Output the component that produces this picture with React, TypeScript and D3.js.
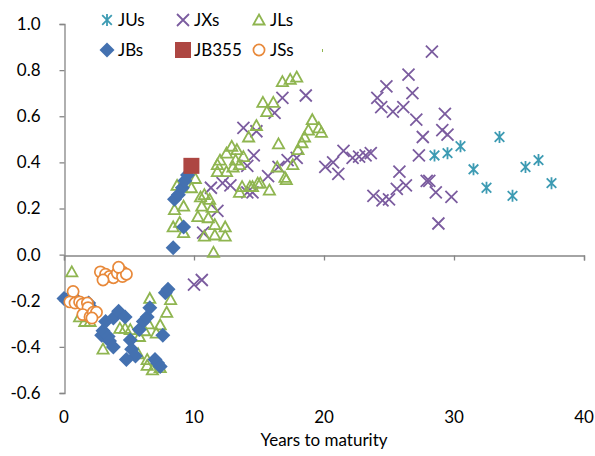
import React, { useEffect, useRef } from "react";
import * as d3 from "d3";

// values: [years to maturity, value]
const JUs = [
  [28.5, 0.43], [29.5, 0.44], [30.5, 0.47], [31.5, 0.37], [32.5, 0.29],
  [33.5, 0.51], [34.5, 0.255], [35.5, 0.38], [36.5, 0.41], [37.5, 0.31],
];

const JXs = [
  [28.3, 0.88], [26.5, 0.78], [24.8, 0.73], [26.8, 0.7], [24.1, 0.68], [24.4, 0.64],
  [25.3, 0.62], [26.1, 0.64], [27.1, 0.585], [29.3, 0.61], [29.1, 0.54], [29.5, 0.52],
  [27.6, 0.51], [27.3, 0.43], [25.8, 0.36], [26.3, 0.3], [25.6, 0.285], [27.9, 0.32],
  [28.1, 0.32], [28.6, 0.27], [29.8, 0.25], [23.8, 0.255], [24.5, 0.235], [25.0, 0.24],
  [28.8, 0.135], [21.5, 0.45], [22.2, 0.42], [22.7, 0.425], [23.2, 0.43], [23.6, 0.44],
  [20.7, 0.4], [21.1, 0.35], [20.1, 0.38], [18.6, 0.69], [16.8, 0.68], [16.2, 0.615],
  [13.8, 0.55], [14.8, 0.535], [14.6, 0.43], [14.1, 0.385], [17.2, 0.41], [17.9, 0.42],
  [16.5, 0.38], [15.7, 0.34], [12.8, 0.3], [12.2, 0.31], [11.3, 0.29], [14.5, 0.27],
  [14.1, 0.27], [11.8, 0.19], [10.7, 0.095], [10.6, -0.11], [10.0, -0.13],
];

const JLs = [
  [16.8, 0.75], [17.4, 0.76], [17.9, 0.77], [15.3, 0.66], [16.1, 0.66], [15.6, 0.62],
  [14.8, 0.56], [14.2, 0.51], [19.1, 0.585], [19.6, 0.55], [19.8, 0.53], [18.8, 0.54],
  [18.5, 0.51], [18.3, 0.485], [18.0, 0.455], [16.5, 0.48], [17.6, 0.39], [16.4, 0.38],
  [17.1, 0.325], [15.8, 0.28], [15.1, 0.31], [14.5, 0.295], [13.7, 0.295], [13.5, 0.27],
  [12.9, 0.47], [13.3, 0.455], [12.5, 0.44], [13.8, 0.425], [12.0, 0.41], [13.2, 0.41],
  [11.8, 0.39], [12.5, 0.36], [13.0, 0.38], [11.8, 0.36], [13.5, 0.39], [14.3, 0.295],
  [14.9, 0.31], [17.0, 0.335],
  [8.5, 0.195], [9.2, 0.21], [9.8, 0.29], [10.1, 0.33], [10.5, 0.25], [10.8, 0.26],
  [11.2, 0.24], [10.6, 0.21], [10.3, 0.165], [11.4, 0.205], [11.1, 0.16], [11.6, 0.13],
  [12.4, 0.12], [10.8, 0.08], [11.6, 0.085], [12.4, 0.08], [8.9, 0.14], [9.2, 0.095],
  [11.5, 0.01], [8.4, 0.12], [8.7, 0.3],
  [0.6, -0.075], [6.6, -0.19], [7.9, -0.25], [8.2, -0.195], [6.5, -0.3], [7.1, -0.34],
  [5.8, -0.355], [6.2, -0.33], [4.7, -0.32], [4.3, -0.32], [5.1, -0.325], [3.0, -0.41],
  [5.7, -0.43], [6.4, -0.455], [6.4, -0.48], [6.8, -0.5], [7.4, -0.49], [1.2, -0.27],
  [1.6, -0.29], [2.0, -0.29], [7.4, -0.305],
];

const JBs = [
  [0.0, -0.19], [0.5, -0.18], [0.85, -0.19], [1.9, -0.21], [2.0, -0.225], [2.9, -0.35],
  [3.0, -0.33], [3.4, -0.355], [3.5, -0.375], [3.8, -0.4], [3.2, -0.29], [3.8, -0.275],
  [4.2, -0.245], [4.7, -0.27], [5.1, -0.37], [5.2, -0.41], [5.5, -0.44], [4.8, -0.455],
  [5.8, -0.325], [6.1, -0.29], [6.4, -0.27], [6.6, -0.23], [7.0, -0.455], [7.2, -0.47],
  [7.4, -0.485], [7.6, -0.35], [7.8, -0.165], [8.0, -0.15], [8.4, 0.03], [9.2, 0.12],
  [8.5, 0.24], [8.8, 0.26], [9.1, 0.29], [9.3, 0.32], [9.5, 0.345],
];

const JB355 = [[9.8, 0.385]];

const JSs = [
  [2.8, -0.075], [3.2, -0.085], [3.5, -0.095], [3.8, -0.1], [4.1, -0.08], [4.5, -0.075],
  [4.5, -0.095], [4.8, -0.085], [4.2, -0.055], [3.0, -0.11],
  [0.7, -0.16], [0.45, -0.205], [0.85, -0.21], [1.2, -0.205], [1.4, -0.215], [1.8, -0.21],
  [1.85, -0.23], [1.45, -0.26], [2.0, -0.27], [2.25, -0.25], [2.5, -0.25], [2.15, -0.275],
];

const xTicks = [0, 10, 20, 30, 40];
const yTicks = [-0.6, -0.4, -0.2, 0, 0.2, 0.4, 0.6, 0.8, 1.0];

const FONT = "Lato, 'Open Sans', sans-serif";
const AXIS = "#868686";

// marker drawers, each draws at (0,0) inside a translated group
const markers = {
  star: (g, c) => {
    const r = 6;
    g.append("path")
      .attr("d", `M0,${-r}V${r}M${-r * 0.8},${-r * 0.8}L${r * 0.8},${r * 0.8}M${-r * 0.8},${r * 0.8}L${r * 0.8},${-r * 0.8}`)
      .attr("stroke", c).attr("stroke-width", 1.8).attr("fill", "none");
  },
  cross: (g, c) => {
    const r = 6;
    g.append("path")
      .attr("d", `M${-r},${-r}L${r},${r}M${-r},${r}L${r},${-r}`)
      .attr("stroke", c).attr("stroke-width", 1.8).attr("fill", "none");
  },
  triangle: (g, c) => {
    g.append("path")
      .attr("d", "M0,-5.5L5.6,4.5L-5.6,4.5Z")
      .attr("stroke", c).attr("stroke-width", 1.8).attr("fill", "none");
  },
  diamond: (g, c) => {
    const r = 7.5;
    g.append("path").attr("d", `M0,${-r}L${r},0L0,${r}L${-r},0Z`).attr("fill", c);
  },
  square: (g, c) => {
    g.append("rect").attr("x", -8).attr("y", -8).attr("width", 16).attr("height", 16).attr("fill", c);
  },
  circle: (g, c) => {
    g.append("circle").attr("r", 5.6).attr("fill", "#fff").attr("stroke", c).attr("stroke-width", 1.7);
  },
};

const series = [
  { name: "JUs", data: JUs, shape: "star", color: "#3d9bb3" },
  { name: "JXs", data: JXs, shape: "cross", color: "#7b5c9f" },
  { name: "JLs", data: JLs, shape: "triangle", color: "#8fb550" },
  { name: "JBs", data: JBs, shape: "diamond", color: "#4471b0" },
  { name: "JB355", data: JB355, shape: "square", color: "#ad4642" },
  { name: "JSs", data: JSs, shape: "circle", color: "#e8893a" },
];

export default function App() {
  const svgRef = useRef(null);

  useEffect(() => {
    const svg = d3.select(svgRef.current);
    svg.selectAll("*").remove();

    const x = d3.scaleLinear().domain([0, 40]).range([64, 584]);
    const y = d3.scaleLinear().domain([-0.6, 1]).range([393, 24]);

    // y axis
    const yAxis = svg.append("g")
      .attr("transform", "translate(64.5,0)")
      .call(d3.axisLeft(y).tickValues(yTicks).tickSize(5).tickPadding(19)
        .tickFormat((d) => (Math.abs(d) < 1e-9 ? "0.0" : d.toFixed(1))));
    yAxis.select(".domain").attr("stroke", AXIS).attr("stroke-width", 1.3);
    yAxis.selectAll(".tick line").attr("stroke", AXIS).attr("stroke-width", 1.3);
    yAxis.selectAll(".tick text").attr("font-family", FONT).attr("font-size", 17).attr("fill", "#000");

    // x axis crosses at zero, labels sit below the plot
    const xAxis = svg.append("g")
      .attr("transform", `translate(0,${Math.round(y(0)) + 0.5})`)
      .call(d3.axisBottom(x).tickValues(xTicks).tickSize(5).tickFormat(() => ""));
    xAxis.select(".domain").attr("stroke", AXIS).attr("stroke-width", 1.3);
    xAxis.selectAll(".tick line").attr("stroke", AXIS).attr("stroke-width", 1.3);

    svg.append("g").selectAll("text").data(xTicks).enter().append("text")
      .attr("x", (d) => x(d)).attr("y", 423)
      .attr("text-anchor", "middle")
      .attr("font-family", FONT).attr("font-size", 17)
      .text((d) => d);

    svg.append("text")
      .attr("x", (x(0) + x(40)) / 2).attr("y", 446)
      .attr("text-anchor", "middle")
      .attr("font-family", FONT).attr("font-size", 17)
      .text("Years to maturity");

    // points
    series.forEach((s) => {
      const g = svg.append("g");
      s.data.forEach((d) => {
        const p = g.append("g").attr("transform", `translate(${x(d[0])},${y(d[1])})`);
        markers[s.shape](p, s.color);
      });
    });

    // legend, two rows of three
    const legend = svg.append("g");
    series.forEach((s, i) => {
      const lx = 107 + (i % 3) * 76;
      const ly = i < 3 ? 20 : 50;
      const p = legend.append("g").attr("transform", `translate(${lx},${ly})`);
      markers[s.shape](p, s.color);
      legend.append("text")
        .attr("x", lx + 11).attr("y", ly)
        .attr("dy", "0.35em")
        .attr("font-family", FONT).attr("font-size", 17)
        .text(s.name);
    });
    legend.append("line")
      .attr("x1", 322.5).attr("x2", 322.5).attr("y1", 49).attr("y2", 52)
      .attr("stroke", "#8fb550").attr("stroke-width", 1);
  }, []);

  return <svg ref={svgRef} width={595} height={456} style={{ display: "block", position: "absolute", left: 0, top: 0, background: "#fff" }} />;
}
